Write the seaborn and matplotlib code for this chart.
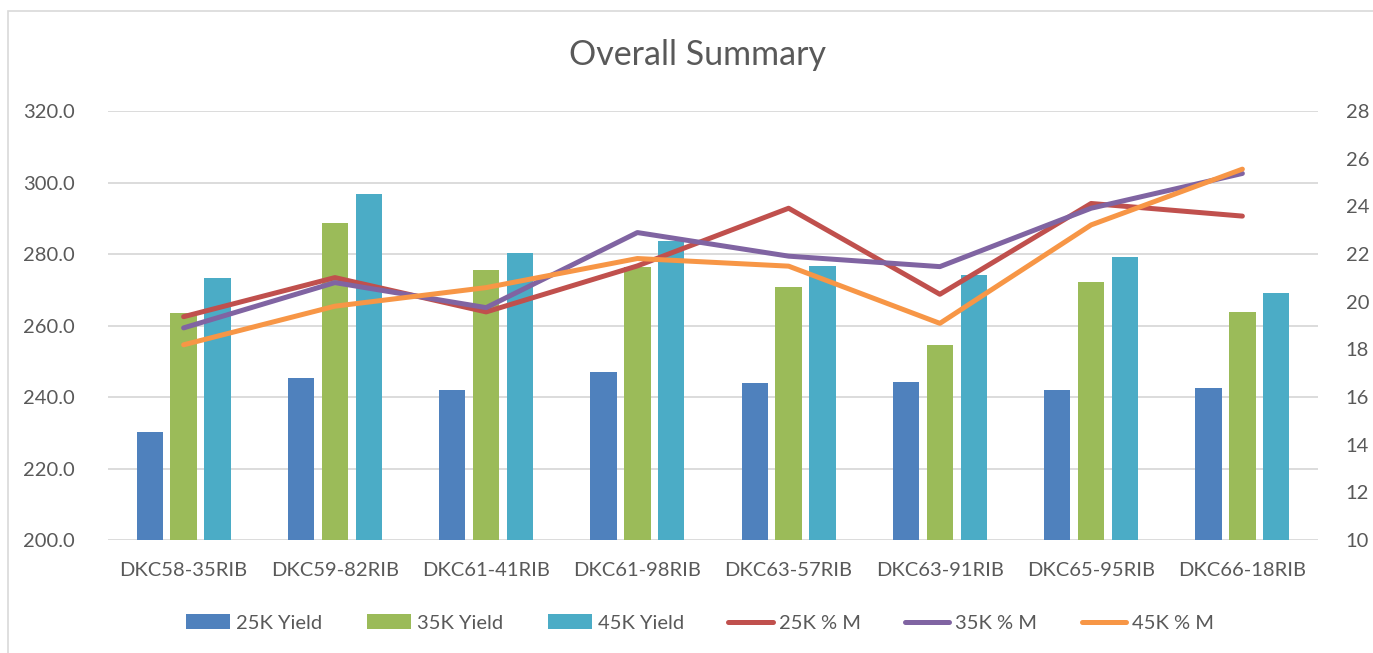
import numpy as np
import pandas as pd
import matplotlib
matplotlib.use("Agg")
import matplotlib.pyplot as plt
import seaborn as sns
from matplotlib.ticker import FormatStrFormatter, MultipleLocator
from matplotlib.patches import Rectangle, Patch
from matplotlib.lines import Line2D

categories = ["DKC58-35RIB", "DKC59-82RIB", "DKC61-41RIB", "DKC61-98RIB",
              "DKC63-57RIB", "DKC63-91RIB", "DKC65-95RIB", "DKC66-18RIB"]
yield_25k = [230.3, 245.2, 241.9, 247.0, 243.8, 244.1, 241.9, 242.4]
yield_35k = [263.4, 288.7, 275.6, 276.4, 270.7, 254.5, 272.1, 263.7]
yield_45k = [273.4, 296.9, 280.2, 283.5, 276.6, 274.1, 279.2, 269.1]
moist_25k = [19.37, 21.01, 19.57, 21.50, 23.92, 20.31, 24.12, 23.59]
moist_35k = [18.90, 20.80, 19.75, 22.90, 21.91, 21.47, 23.92, 25.38]
moist_45k = [18.19, 19.81, 20.59, 21.81, 21.49, 19.09, 23.22, 25.56]

bar_names = ["25K Yield", "35K Yield", "45K Yield"]
line_names = ["25K % M", "35K % M", "45K % M"]
bar_colors = ["#4F81BD", "#9BBB59", "#4BACC6"]
line_colors = ["#C0504D", "#8064A2", "#F79646"]
text_color = "#595959"
grid_color = "#D9D9D9"

sns.set_theme(style="white")
plt.rcParams["font.family"] = ["Lato", "DejaVu Sans"]

bars_df = pd.DataFrame({
    "Hybrid": categories * 3,
    "Series": np.repeat(bar_names, len(categories)),
    "Value": yield_25k + yield_35k + yield_45k,
})
lines_df = pd.DataFrame({
    "pos": np.tile(np.arange(len(categories)), 3),
    "Series": np.repeat(line_names, len(categories)),
    "Value": moist_25k + moist_35k + moist_45k,
})

fig = plt.figure(figsize=(13.73, 6.53), dpi=100)
ax = fig.add_axes([108 / 1373, 1 - 540 / 653, (1318 - 108) / 1373, (540 - 111) / 653])

sns.barplot(data=bars_df, x="Hybrid", y="Value", hue="Series", order=categories,
            hue_order=bar_names, palette=bar_colors, saturation=1,
            width=0.672, gap=0.22, linewidth=0, ax=ax, legend=False)
ax.set_ylim(200, 320)
ax.yaxis.set_major_locator(MultipleLocator(20))
ax.yaxis.set_major_formatter(FormatStrFormatter("%.1f"))
ax.set_xlim(-0.5, len(categories) - 0.5)
ax.grid(axis="y", color=grid_color, linewidth=1.3)
ax.set_axisbelow(True)
for s in ax.spines.values():
    s.set_visible(False)
ax.set_xlabel("")
ax.set_ylabel("")
ax.tick_params(axis="both", length=0, labelsize=14.5, colors=text_color)
ax.tick_params(axis="y", pad=24)
ax.tick_params(axis="x", pad=16)

ax2 = ax.twinx()
sns.lineplot(data=lines_df, x="pos", y="Value", hue="Series", hue_order=line_names,
             palette=line_colors, linewidth=3.6, ax=ax2, legend=False,
             solid_capstyle="round", solid_joinstyle="round")
ax2.set_ylim(10, 28)
ax2.yaxis.set_major_locator(MultipleLocator(2))
ax2.set_xlim(-0.5, len(categories) - 0.5)
for s in ax2.spines.values():
    s.set_visible(False)
ax2.set_ylabel("")
ax2.set_xlabel("")
ax2.tick_params(axis="y", length=0, labelsize=14.5, colors=text_color, pad=20)

fig.text(697 / 1373, 1 - 55 / 653, "Overall Summary", ha="center", va="center",
         fontsize=24.5, color=text_color)

handles = [Patch(facecolor=c, edgecolor="none") for c in bar_colors] + \
          [Line2D([0], [0], color=c, linewidth=3.6, solid_capstyle="round") for c in line_colors]
labels = bar_names + line_names
leg = fig.legend(handles, labels, loc="center", bbox_to_anchor=(700 / 1373, 1 - 623 / 653),
                 ncol=6, frameon=False, fontsize=14.5, handlelength=2.2,
                 handleheight=0.75, columnspacing=2.2, handletextpad=0.3)
for t in leg.get_texts():
    t.set_color(text_color)

fig.patches.append(Rectangle((8 / 1373, -0.05), 1.2, 1 - 11 / 653 + 0.05,
                             transform=fig.transFigure, fill=False,
                             edgecolor="#D9D9D9", linewidth=1.2))

fig.savefig("out.png", dpi=100, facecolor="white")
